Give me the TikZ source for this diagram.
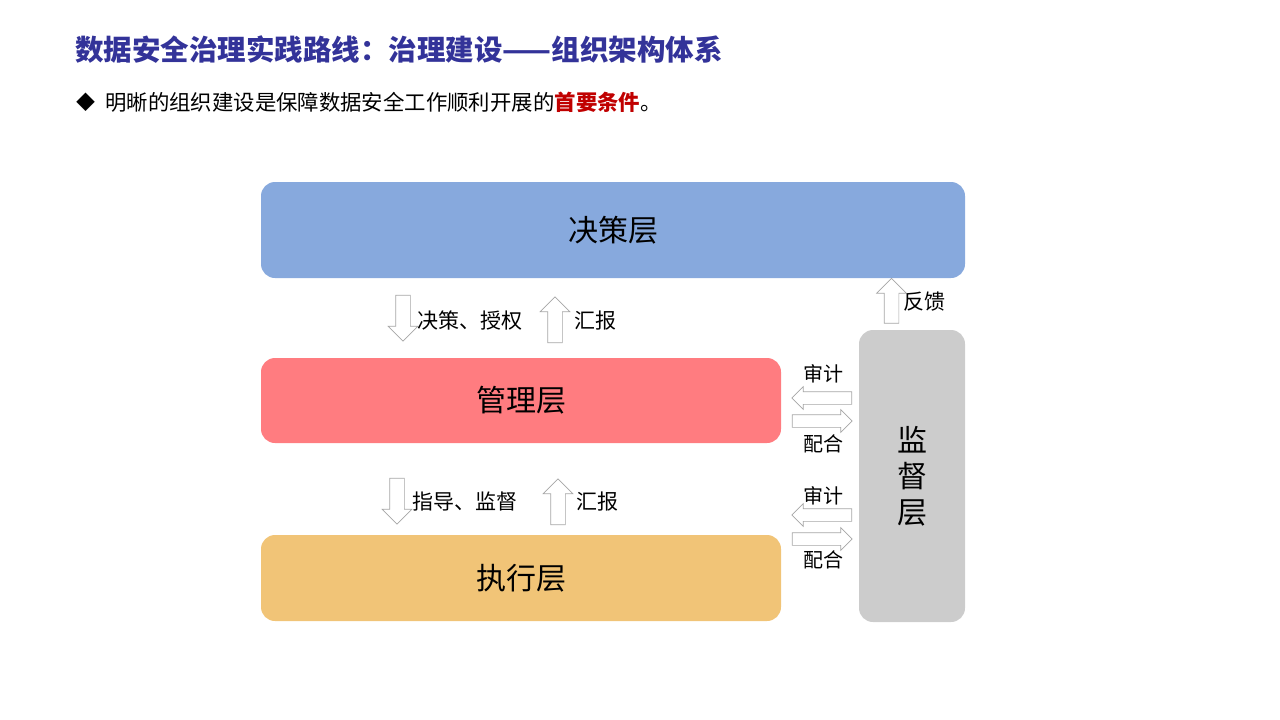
\documentclass[tikz,border=0pt]{standalone}
\usepackage{fontspec}
\setmainfont{Noto Sans CJK SC}
\usetikzlibrary{shapes.arrows,positioning}
\definecolor{titleblue}{HTML}{333399}
\definecolor{keyred}{HTML}{C00000}
\definecolor{decblue}{HTML}{87A9DD}
\definecolor{mgmtred}{HTML}{FF7C80}
\definecolor{execgold}{HTML}{F1C477}
\definecolor{supgray}{HTML}{CCCCCC}
\definecolor{arrowgray}{HTML}{A6A6A6}

\begin{document}
\begin{tikzpicture}[x=1pt, y=-1pt,
    layer/.style={fill=#1, rounded corners=14pt, inner sep=0pt, align=center,
        font=\fontsize{30pt}{36pt}\selectfont},
    lbl/.style={inner sep=0pt, font=\fontsize{21pt}{24pt}\selectfont},
    slbl/.style={inner sep=0pt, font=\fontsize{20pt}{24pt}\selectfont},
    vblock/.style={single arrow, draw=arrowgray, fill=white, line width=0.7pt,
        inner xsep=7pt, inner ysep=0pt, single arrow head extend=7.5pt, minimum height=46pt},
    hblock/.style={single arrow, draw=arrowgray, fill=white, line width=0.7pt,
        inner xsep=0pt, inner ysep=6pt, single arrow head extend=5pt, minimum height=60pt}
]
    \useasboundingbox (0,0) rectangle (1280,720);

    % Title and key sentence
    \node[anchor=west, inner sep=0pt, text=titleblue, font=\fontsize{28.5pt}{34pt}\selectfont\bfseries]
        (title) at (75,50) {数据安全治理实践路线：治理建设——组织架构体系};
    \node[inner sep=0pt, font=\fontsize{19pt}{24pt}\selectfont] (bul) at (86,102) {◆};
    \node[anchor=west, inner sep=0pt, font=\fontsize{21.4pt}{26pt}\selectfont]
        (intro) at (105,102) {明晰的组织建设是保障数据安全工作顺利开展的\textcolor{keyred}{\bfseries 首要条件}。};

    % Layers
    \node[layer=decblue, minimum width=704pt, minimum height=96pt] (dec) at (613,230) {决策层};
    \node[layer=mgmtred, minimum width=520pt, minimum height=85pt] (mgmt) at (521,400.5) {管理层};
    \node[layer=execgold, minimum width=520pt, minimum height=86pt] (exec) at (521,578) {执行层};
    \node[layer=supgray, minimum width=106pt, minimum height=292pt] (sup) at (912,476) {监\\督\\层};

    % Decision <-> management
    \node[vblock, shape border rotate=270] (dn1) at (403,314.5) {};
    \node[vblock, shape border rotate=90] (up1) at (555,323.5) {};
    \node[lbl, anchor=west] (dn1l) at (417,321) {决策、授权};
    \node[lbl, anchor=west] (up1l) at (574,321) {汇报};

    % Management <-> execution
    \node[vblock, shape border rotate=270] (dn2) at (397,497.5) {};
    \node[vblock, shape border rotate=90] (up2) at (558,505.5) {};
    \node[lbl, anchor=west] (dn2l) at (412,502) {指导、监督};
    \node[lbl, anchor=west] (up2l) at (576,502) {汇报};

    % Supervision feedback
    \node[vblock, minimum height=45pt, shape border rotate=90] (fb) at (891.5,304.5) {};
    \node[lbl, anchor=west] (fbl) at (903,302) {反馈};

    % Audit / cooperation
    \node[hblock, shape border rotate=180] (aud1) at (825,398) {};
    \node[hblock] (coop1) at (819,421) {};
    \node[slbl] (aud1l) at (823,374) {审计};
    \node[slbl] (coop1l) at (823,444) {配合};
    \node[hblock, shape border rotate=180] (aud2) at (825,515) {};
    \node[hblock] (coop2) at (819,539) {};
    \node[slbl] (aud2l) at (823,496) {审计};
    \node[slbl] (coop2l) at (823,560) {配合};
\end{tikzpicture}
\end{document}
